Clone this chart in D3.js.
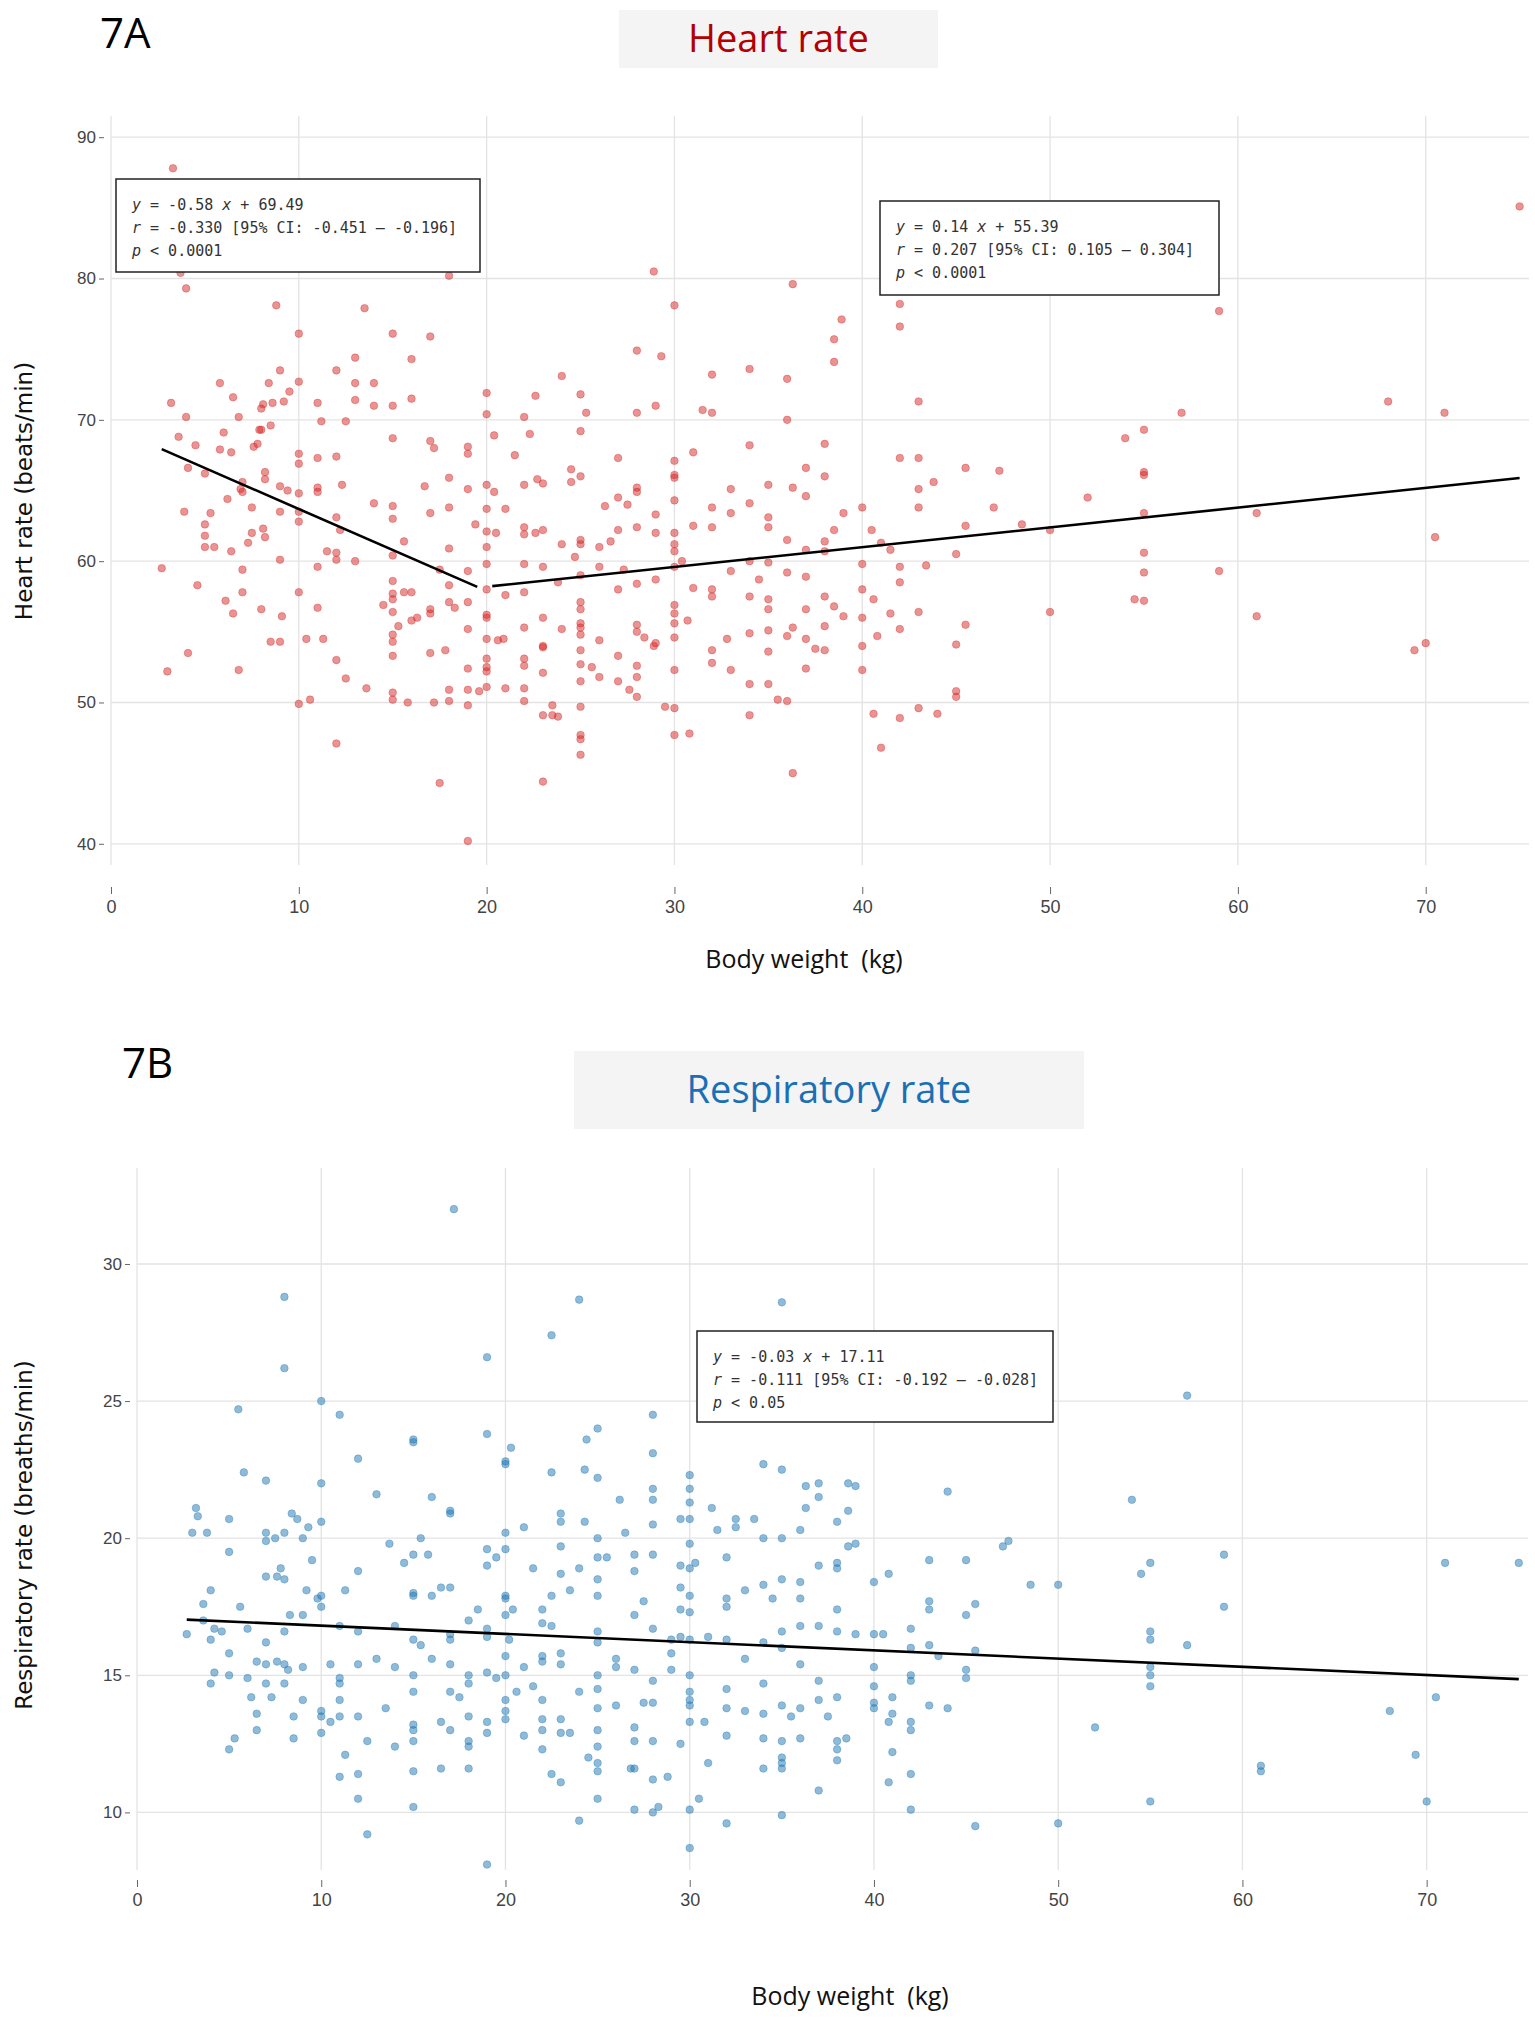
<!DOCTYPE html>
<html><head><meta charset="utf-8">
<script src="https://cdn.jsdelivr.net/npm/d3@7"></script>
<style>body{margin:0;background:#fff} text{white-space:pre}</style>
</head><body>
<svg id="c" width="1535" height="2023"></svg>
<script>
const hrWeights = [3.3,3.7,4,3.2,3.6,4,4.1,3.9,2.7,3,4.1,4.5,4.6,5,5,5,5,5.3,5.5,6,5.8,5.8,6.1,6.2,6.5,6.4,6.4,6.5,6.8,6.9,7,7,7,7,6.8,7.3,7.5,7.5,7.6,7.8,7.9,8,8,8.1,8.2,8.2,8.1,8.2,8,8.4,8.5,8.5,8.6,8.8,9,9,9,9,9.1,9,9.2,9.4,9.5,10,10,10,10,10,10,10,10,10,10.4,10.6,11,11,11,11,11,11,11.2,11.3,11.5,12,12,12,12,12,12,12,12.2,12.3,12.5,12.5,13,13,13,13,13.5,13.6,14,14,14,14.5,15,15,15,15,15,15,15,15,15,15,15,15,15,15,15,15.3,15.6,15.6,15.8,16,16,16,16,16.3,16.7,17,17,17,17,17,17,17.2,17.2,17.5,17.5,17.8,18,18,18,18,18,18,18,18,18,18.3,19,19,19,19,19,19,19,19,19,19,19.4,19.6,
20,20,20,20,20,20,20,20,20,20,20,20,20,20,20,20.4,20.4,20.5,20.6,20.9,21,21,21,21.5,22,22,22,22,22,22,22,22,22,22,22,22.3,22.6,22.7,22.6,23,23,23,23,23,23,23,23,23,23.5,23.5,23.8,23.8,24,24,24,24.5,24.5,24.7,25,25,25,25,25,25,25,25,25,25,25,25,25,25,25,25,25,25,25.3,25.6,26,26,26,26,26.3,26.6,27,27,27,27,27,27,27.3,27.5,27.6,28,28,28,28,28,28,28,28,28,28,28,28.4,28.9,28.9,29,29,29,29,29,29.3,29.5,30,30,30,30,30,30,30,30,30,30,30,30,30,30,30,30,30.4,30.7,30.8,31,31,31,31.5,32,32,32,32,32,32,32,32,32.8,33,33,33,33,34,34,34,34,34,34,34,34,34.5,35,35,35,35,35,35,35,35,35,35.5,36,36,36,36,36,36,36.3,36.3,36.3,36.3,37,37,37,37,37,37,37,37.5,38,38,38,38,38,38,38,38.5,38.5,38.5,38.5,38.9,39,39,40,40,40,40,40,40,40.5,40.6,40.6,40.8,41,41,41.5,41.5,42,42,42,42,42,42,42,43,43,43,43,43,43,43.4,43.8,44,45,45,45,45,45.5,45.5,45.5,47,47.3,48.5,50,50,52,54,54.5,55,55,55,55,55,55,55,57,57,59,59,61,61,68,69.4,70,70.5,71,75];
const hrValues = [87.8,80.4,79.3,71.2,68.8,70.2,66.6,63.5,59.5,52.2,53.5,68.2,58.3,66.2,62.6,61.8,61,63.4,61,69.1,72.6,67.9,57.2,64.4,71.6,67.7,60.7,56.3,70.2,65.1,65.6,64.9,59.4,57.8,52.3,61.3,63.8,62,68.1,68.3,69.3,70.8,69.3,71.1,66.3,65.8,62.3,61.7,56.6,72.6,69.6,54.3,71.2,78.1,73.5,65.3,63.5,60.1,56.1,54.3,71.3,65,72,76.1,72.7,67.6,66.9,64.8,63.5,62.8,57.8,49.9,54.5,50.2,71.2,67.3,65.2,64.9,59.6,56.7,69.9,54.5,60.7,73.5,67.4,63.1,60.6,60.1,53,47.1,62.2,65.4,69.9,51.7,74.4,72.6,71.4,60,77.9,51,72.6,71,64.1,56.9,76.1,71,68.7,63.9,63,60.4,58.6,57.7,57.3,56.4,54.8,54.3,53.3,50.7,50.2,55.4,61.4,57.8,50,74.3,71.5,57.8,55.8,56,65.3,75.9,68.5,63.4,56.6,56.3,53.5,68,50,44.3,59.4,53.7,82.3,80.2,65.9,63.8,60.9,58.3,57.1,50.9,50.1,56.7,68.1,67.6,65.1,59.3,57.1,55.2,52.4,50.9,49.8,40.2,62.6,50.8,
71.9,70.4,65.4,63.7,62.1,61,59.8,58,56.2,56,54.5,53.1,52.5,52.2,51.1,68.9,64.9,62,54.4,54.5,63.7,57.6,51,67.5,70.2,65.4,62.4,61.9,59.8,57.8,55.3,53.1,52.6,51,50.1,69,71.7,65.8,62,65.5,62.2,59.6,56,54,53.9,52.1,49.1,44.4,49.8,49.1,49,58.5,73.1,61.2,55.2,66.5,65.6,60.3,71.8,69.2,66,61.5,61.2,59,57.1,56.6,55.6,55.3,54.8,53.7,52.7,51.5,49.7,47.7,47.4,46.3,70.5,52.5,61,59.6,54.4,51.8,63.9,61.4,67.3,64.5,62.2,58,53.3,51.5,59.4,64,50.9,74.9,70.5,65.2,64.9,62.4,58.4,55.5,55,52.6,51.8,50.4,54.6,80.5,54,71,63.3,62,58.7,54.2,74.5,49.7,78.1,67.1,66.1,65.9,64.3,62,61.2,60.7,59.6,56.9,56.3,55.6,54.6,52.3,49.6,47.7,60,55.8,47.8,67.7,62.5,58.1,70.7,73.2,70.5,63.8,62.4,58,57.5,53.7,52.8,54.5,65.1,63.4,59.3,52.3,73.6,68.2,64.1,60,57.5,54.9,51.3,49.1,58.7,65.4,63.1,62.4,59.9,57.3,56.6,55.1,53.6,51.3,50.2,72.9,70,61.5,59.2,54.7,50.1,79.6,65.2,45,55.3,66.6,64.6,60.8,58.9,56.6,54.5,52.4,53.8,68.3,66,61.4,60.7,57.5,55.4,53.7,75.7,74.1,62.2,56.8,77.1,63.4,56.1,63.8,59.8,58,56,54,52.3,62.2,57.3,49.2,54.7,61.3,46.8,60.8,56.3,78.2,76.6,67.3,59.6,58.5,55.2,48.9,71.3,67.3,65.1,63.8,56.4,49.6,59.7,65.6,49.2,60.5,54.1,50.8,50.4,62.5,66.6,55.5,63.8,66.4,62.6,62.2,56.4,64.5,68.7,57.3,69.3,66.3,66.1,63.4,60.6,59.2,57.2,80.2,70.5,77.7,59.3,63.4,56.1,71.3,53.7,54.2,61.7,70.5,85.1];

const rrWeights = [2.7,3,3.2,3.3,3.6,3.6,3.8,4,4,4,4.2,4.2,4.6,5,5,5,5,5,5.3,5.5,5.6,5.8,6,6,6.2,6.5,6.5,6.5,7,7,7,7,7,7,7,7.3,7.5,7.6,7.6,7.8,8,8,8,8,8,8,8,8.2,8.3,8.4,8.5,8.5,8.7,9,9,9,9,9.2,9.3,9.5,9.8,10,10,10,10,10,10,10,10,10.5,10.5,11,11,11,11,11,11,11,11.3,11.3,12,12,12,12,12,12,12,12.5,12.5,13,13,13.5,13.7,14,14,14,14.5,15,15,15,15,15,15,15,15,15,15,15,15,15,15.4,15.4,15.8,16,16,16,16.5,16.5,16.5,17,17,17,17,17,17,17,17,17.2,17.5,18,18,18,18,18,18,18,18.5,19,19,19,19,19,19,19,19,19,19,19.5,19.5,20,20,20,20,20,20,20,20,20,20,20,20,20.2,20.3,20.4,20.6,21,21,21,21.5,21.5,22,22,22,22,22,22,22,22,22.5,22.5,22.5,22.5,22.5,23,23,23,23,23,23,23,23,23,23.5,23.5,24,24,24,24,24.3,24.3,24.4,24.5,25,25,25,25,25,25,25,25,25,25,25,25,25,25,25,25,25.5,26,26,26,26.2,26.5,26.8,27,27,27,27,27,27,27,27,27.5,27.5,28,28,28,28,28,28,28,28,28,28,28,28,28.3,28.8,29,29,29,29.5,29.5,29.5,29.5,29.5,29.5,30,30,30,30,30,30,30,30,30,30,30,30,30,30,30,30,30.3,30.5,30.8,31,31,31.2,31.5,32,32,32,32,32,32,32,32,32.5,32.5,33,33,33,33.5,34,34,34,34,34,34,34,34,34.5,35,35,35,35,35,35,35,35,35,35,35,35,35.5,36,36,36,36,36,36,36,36.3,36.3,37,37,37,37,37,37,37,37.5,38,38,38,38,38,38,38,38,38,38.5,38.6,38.6,38.6,39,39,39,40,40,40,40,40,40,40.5,40.8,40.8,40.8,41,41,41,42,42,42,42,42,42,42,42,43,43,43,43,43,43.5,44,44,45,45,45,45,45.5,45.5,45.5,47,47.3,48.5,50,50,52,54,54.5,55,55,55,55,55,55,55,57,57,59,59,61,61,68,69.4,70,70.5,71,75];
const rrValues = [16.5,20.2,21.1,20.8,17.6,17,20.2,18.1,16.3,14.7,16.7,15.1,16.6,20.7,19.5,15.8,15,12.3,12.7,24.7,17.5,22.4,16.7,14.9,14.2,15.5,13.6,13,22.1,20.2,19.9,18.6,16.2,15.4,14.7,14.2,20,18.6,15.5,18.9,28.8,26.2,20.2,18.5,16.6,15.4,14.7,15.2,17.2,20.9,13.5,12.7,20.7,20,17.2,15.3,14.1,18.1,20.4,19.2,17.8,25,22,20.6,17.9,17.5,13.7,13.5,12.9,13.3,15.4,24.5,16.8,14.9,14.7,14.1,13.5,11.3,18.1,12.1,22.9,18.8,16.6,15.4,13.5,11.4,10.5,9.2,12.6,21.6,15.6,13.8,19.8,16.8,15.3,12.4,19.1,23.6,23.5,19.4,18,17.9,16.3,15,14.4,13.2,13,12.6,11.5,10.2,20,16.1,19.4,21.5,17.9,15.6,18.2,13.3,11.6,21,20.9,18.2,16.5,16.3,15.4,14.4,13,32,14.2,17,15,14.7,13.5,12.6,12.4,11.6,17.4,26.6,23.8,19.6,19,16.7,16.4,15.1,13.3,12.9,8.1,14.9,19.3,22.8,22.7,20.2,19.6,17.9,17.8,17.2,15.7,15,14.1,13.7,13.4,16.3,23.3,17.4,14.4,20.4,15.3,12.8,14.6,18.9,17.4,16.9,15.7,15.5,14.1,13.4,13,12.3,27.4,22.4,17.9,16.8,11.4,20.9,20.6,19.7,18.7,15.8,15.4,13.4,12.9,11.1,18.1,12.9,28.7,18.9,14.4,9.7,22.5,20.6,23.6,12,24,22.2,20,19.3,18.5,17.9,16.6,16.2,15,14.5,13.8,13,12.4,11.8,11.5,10.5,19.3,15.6,15.3,13.9,21.4,20.2,11.6,19.4,18.8,17.2,15.2,13.1,12.6,11.6,10.1,17.7,14,24.5,23.1,21.8,21.4,20.5,19.4,16.7,14.8,14,12.6,11.2,10,10.2,11.3,16.3,15.8,15.2,20.7,19,18.2,17.4,16.4,12.5,22.3,21.8,21.3,20.7,19.8,18.9,17.9,17.3,16.3,15,14.4,14.1,13.9,13.3,10.1,8.7,19.1,10.5,13.3,16.4,11.8,21.1,20.3,19.3,17.8,17.5,16.3,14.5,13.8,12.8,9.6,20.7,20.4,18.1,15.6,13.7,20.7,22.7,20,18.3,16.2,14.7,13.6,12.7,11.6,17.8,28.6,22.5,20,18.5,16.6,16,13.9,12.6,12,11.8,11.6,9.9,13.5,20.3,18.4,17.8,16.8,15.4,13.8,12.7,21.9,21.1,22,21.5,19,16.8,14.8,14.1,10.8,13.5,20.6,19.1,18.9,17.4,16.6,14.2,12.6,12.3,11.9,12.7,22,21,19.7,21.9,19.8,16.5,18.4,16.5,15.3,14.6,14,13.8,16.5,18.7,13.3,11.1,14.2,12.2,13.6,16.7,16,15,14.8,13.3,13,11.4,10.1,19.2,17.7,17.4,16.1,13.9,15.7,21.7,13.8,19.2,17.2,15.2,14.9,17.6,15.9,9.5,19.7,19.9,18.3,18.3,9.6,13.1,21.4,18.7,19.1,16.6,16.3,15.3,15,14.6,10.4,25.2,16.1,19.4,17.5,11.7,11.5,13.7,12.1,10.4,14.2,19.1,19.1];

const xTicks = [0,10,20,30,40,50,60,70];
const hrTicks = [40,50,60,70,80,90];
const rrTicks = [10,15,20,25,30];
const hrFits = [{slope:-0.58, intercept:69.49, from:2.7, to:19.5},{slope:0.14, intercept:55.39, from:20.3, to:75}];
const rrFits = [{slope:-0.03, intercept:17.11, from:2.7, to:75}];
const hrNotes = [
  [["y"," = -0.58 "],["x"," + 69.49"]],
  [["r"," = -0.330 [95% CI: -0.451 – -0.196]"]],
  [["p"," < 0.0001"]]];
const hrNotes2 = [
  [["y"," = 0.14 "],["x"," + 55.39"]],
  [["r"," = 0.207 [95% CI: 0.105 – 0.304]"]],
  [["p"," < 0.0001"]]];
const rrNotes = [
  [["y"," = -0.03 "],["x"," + 17.11"]],
  [["r"," = -0.111 [95% CI: -0.192 – -0.028]"]],
  [["p"," < 0.05"]]];

const svg = d3.select("#c");

function panel(o){
  const g = svg.append("g");
  const x = d3.scaleLinear().domain([0,75.5]).range([o.x0,o.x1]);
  const y = d3.scaleLinear().domain(o.yDom).range([o.yb,o.yt]);
  g.selectAll(".vg").data(xTicks).join("line").attr("x1",d=>x(d)).attr("x2",d=>x(d))
    .attr("y1",o.yt).attr("y2",o.yb).attr("stroke","#e3e3e3").attr("stroke-width",1.3);
  g.selectAll(".hg").data(o.yTicks).join("line").attr("x1",o.x0).attr("x2",o.x1)
    .attr("y1",d=>y(d)).attr("y2",d=>y(d)).attr("stroke","#e3e3e3").attr("stroke-width",1.3);
  const ya = g.append("g").attr("transform",`translate(${o.yAxisX},0)`)
    .call(d3.axisLeft(y).tickValues(o.yTicks).tickSize(5).tickPadding(3));
  ya.select(".domain").remove();
  ya.selectAll("line").attr("stroke","#666");
  ya.selectAll("text").attr("font-family","Liberation Sans Narrow, Liberation Sans").attr("font-size",17).attr("fill","#444");
  const xa = g.append("g").attr("transform",`translate(0,${o.xAxisY})`)
    .call(d3.axisBottom(x).tickValues(xTicks).tickSize(7).tickPadding(6));
  xa.select(".domain").remove();
  xa.selectAll("line").attr("stroke","#666");
  xa.selectAll("text").attr("font-family","Liberation Sans Narrow, Liberation Sans").attr("font-size",18).attr("fill","#444");
  g.selectAll("circle").data(o.xs.map((d,i)=>[d,o.ys[i]])).join("circle")
    .attr("cx",d=>x(d[0])).attr("cy",d=>y(d[1])).attr("r",3.8)
    .attr("fill",o.color).attr("fill-opacity",0.5).attr("stroke",o.color).attr("stroke-opacity",0.35);
  o.fits.forEach(f=>{
    g.append("line").attr("x1",x(f.from)).attr("y1",y(f.slope*f.from+f.intercept))
      .attr("x2",x(f.to)).attr("y2",y(f.slope*f.to+f.intercept)).attr("stroke","#000").attr("stroke-width",2.6);
  });
  o.notes.forEach(n=>{
    g.append("rect").attr("x",n.x).attr("y",n.y).attr("width",n.w).attr("height",n.h)
      .attr("fill","#fff").attr("stroke","#222").attr("stroke-width",1.5);
    n.lines.forEach((ln,i)=>{
      const t = g.append("text").attr("x",n.x+16).attr("y",n.y+31+i*23)
        .attr("font-family","DejaVu Sans Mono").attr("font-size",15).attr("fill","#333");
      ln.forEach(([a,b])=>{
        t.append("tspan").attr("font-style","italic").text(a);
        t.append("tspan").text(b);
      });
    });
  });
  g.append("text").attr("x",o.xTitleX).attr("y",o.xTitleY).attr("text-anchor","middle")
    .attr("font-family","Open Sans").attr("font-size",25).attr("fill","#111").text("Body weight  (kg)");
  g.append("text").attr("transform",`translate(${o.yTitleX},${o.yTitleY}) rotate(-90)`).attr("text-anchor","middle")
    .attr("font-family","DejaVu Sans").attr("font-size",23).attr("fill","#111").text(o.yTitle);
  g.append("rect").attr("x",o.tb[0]).attr("y",o.tb[1]).attr("width",o.tb[2]).attr("height",o.tb[3]).attr("fill","#f4f4f4");
  g.append("text").attr("x",o.tb[0]+o.tb[2]/2).attr("y",o.tb[1]+o.tb[3]/2+13).attr("text-anchor","middle")
    .attr("font-family","Open Sans").attr("font-size",38).attr("fill",o.titleColor).text(o.title);
  g.append("text").attr("x",o.lab[0]).attr("y",o.lab[1]).attr("font-family","Open Sans").attr("font-size",42).attr("fill","#000").text(o.label);
}

panel({x0:111,x1:1529,yDom:[38.5,91.5],yt:116,yb:865,yTicks:hrTicks,yAxisX:104,xAxisY:887,
  xs:hrWeights,ys:hrValues,color:"#d62728",fits:hrFits,
  notes:[{x:116,y:179,w:364,h:93,lines:hrNotes},{x:880,y:201,w:339,h:94,lines:hrNotes2}],
  xTitleX:804,xTitleY:968,yTitleX:32,yTitleY:491,yTitle:"Heart rate (beats/min)",
  tb:[619,10,319,58],title:"Heart rate",titleColor:"#b30000",lab:[100,48],label:"7A"});
panel({x0:137,x1:1528,yDom:[7.9,33.5],yt:1168,yb:1870,yTicks:rrTicks,yAxisX:130,xAxisY:1880,
  xs:rrWeights,ys:rrValues,color:"#1f77b4",fits:rrFits,
  notes:[{x:697,y:1331,w:356,h:91,lines:rrNotes}],
  xTitleX:850,xTitleY:2005,yTitleX:32,yTitleY:1535,yTitle:"Respiratory rate (breaths/min)",
  tb:[574,1051,510,78],title:"Respiratory rate",titleColor:"#1a6fb5",lab:[122,1078],label:"7B"});
</script>
</body></html>
